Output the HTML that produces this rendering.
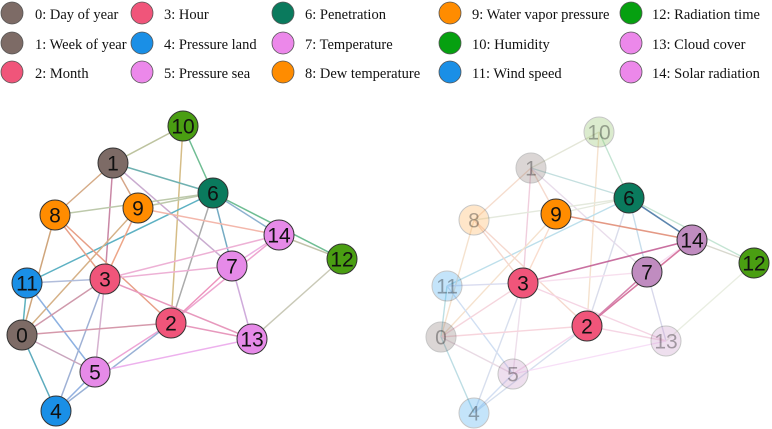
<!DOCTYPE html>
<html><head><meta charset="utf-8"><style>
body{margin:0;background:#fff;}
svg{display:block;}
.lg{font-family:"Liberation Serif",serif;font-size:14.5px;fill:#111;}
.nl{font-family:"Liberation Sans",sans-serif;font-size:21px;text-anchor:middle;dominant-baseline:central;fill:#111;}
</style></head><body>
<svg width="772" height="429" viewBox="0 0 772 429" xmlns="http://www.w3.org/2000/svg">
<g stroke="#555" stroke-width="0.8">
<circle cx="12" cy="13" r="11" fill="#7d6b66"/><circle cx="12" cy="43" r="11" fill="#7d6b66"/><circle cx="12" cy="72" r="11" fill="#f0557a"/>
<circle cx="142" cy="13" r="11" fill="#f0557a"/><circle cx="142" cy="43" r="11" fill="#1a8fe6"/><circle cx="142" cy="72" r="11" fill="#ec88ea"/>
<circle cx="283" cy="13" r="11" fill="#0a7a5d"/><circle cx="283" cy="43" r="11" fill="#ec88ea"/><circle cx="283" cy="72" r="11" fill="#ff8c00"/>
<circle cx="450" cy="13" r="11" fill="#ff8c00"/><circle cx="450" cy="43" r="11" fill="#06a010"/><circle cx="450" cy="72" r="11" fill="#1a8fe6"/>
<circle cx="631" cy="13" r="11" fill="#06a010"/><circle cx="631" cy="43" r="11" fill="#ec88ea"/><circle cx="631" cy="72" r="11" fill="#ec88ea"/>
</g>
<g class="lg">
<text x="35" y="19">0: Day of year</text><text x="35" y="49">1: Week of year</text><text x="35" y="78">2: Month</text>
<text x="164" y="19">3: Hour</text><text x="164" y="49">4: Pressure land</text><text x="164" y="78">5: Pressure sea</text>
<text x="305" y="19">6: Penetration</text><text x="305" y="49">7: Temperature</text><text x="305" y="78">8: Dew temperature</text>
<text x="472" y="19">9: Water vapor pressure</text><text x="472" y="49">10: Humidity</text><text x="472" y="78">11: Wind speed</text>
<text x="652" y="19">12: Radiation time</text><text x="652" y="49">13: Cloud cover</text><text x="652" y="78">14: Solar radiation</text>
</g>

<g stroke-width="1.5" opacity="0.75">
<line x1="183" y1="126" x2="113" y2="163" stroke="#a8b080"/>
<line x1="183" y1="126" x2="213" y2="193" stroke="#40a870"/>
<line x1="183" y1="126" x2="171" y2="323" stroke="#c8a860"/>
<line x1="113" y1="163" x2="213" y2="193" stroke="#409898"/>
<line x1="113" y1="163" x2="55" y2="215" stroke="#c89060"/>
<line x1="113" y1="163" x2="138" y2="208" stroke="#c88860"/>
<line x1="113" y1="163" x2="105" y2="279" stroke="#b86088"/>
<line x1="113" y1="163" x2="232" y2="266" stroke="#b890c0"/>
<line x1="213" y1="193" x2="55" y2="215" stroke="#a8b890"/>
<line x1="213" y1="193" x2="138" y2="208" stroke="#a8b890"/>
<line x1="213" y1="193" x2="27" y2="283" stroke="#2898b0"/>
<line x1="213" y1="193" x2="279" y2="235" stroke="#6898c0"/>
<line x1="213" y1="193" x2="342" y2="259" stroke="#40a870"/>
<line x1="213" y1="193" x2="232" y2="266" stroke="#4890b0"/>
<line x1="213" y1="193" x2="171" y2="323" stroke="#909090"/>
<line x1="138" y1="208" x2="279" y2="235" stroke="#f0a090"/>
<line x1="138" y1="208" x2="22" y2="335" stroke="#c89860"/>
<line x1="138" y1="208" x2="105" y2="279" stroke="#e88860"/>
<line x1="55" y1="215" x2="105" y2="279" stroke="#e08060"/>
<line x1="55" y1="215" x2="171" y2="323" stroke="#e08060"/>
<line x1="55" y1="215" x2="22" y2="335" stroke="#c08850"/>
<line x1="279" y1="235" x2="342" y2="259" stroke="#b0b090"/>
<line x1="279" y1="235" x2="105" y2="279" stroke="#e898c8"/>
<line x1="279" y1="235" x2="171" y2="323" stroke="#e888c0"/>
<line x1="279" y1="235" x2="232" y2="266" stroke="#e898d8"/>
<line x1="232" y1="266" x2="105" y2="279" stroke="#e898c8"/>
<line x1="232" y1="266" x2="171" y2="323" stroke="#e870a8"/>
<line x1="232" y1="266" x2="252" y2="339" stroke="#c090d0"/>
<line x1="342" y1="259" x2="252" y2="339" stroke="#b8b8a0"/>
<line x1="27" y1="283" x2="105" y2="279" stroke="#98a8d0"/>
<line x1="27" y1="283" x2="22" y2="335" stroke="#2898a8"/>
<line x1="27" y1="283" x2="95" y2="372" stroke="#6898d8"/>
<line x1="105" y1="279" x2="22" y2="335" stroke="#c07890"/>
<line x1="105" y1="279" x2="95" y2="372" stroke="#c898c0"/>
<line x1="105" y1="279" x2="56" y2="411" stroke="#8098c8"/>
<line x1="105" y1="279" x2="252" y2="339" stroke="#e078a8"/>
<line x1="171" y1="323" x2="22" y2="335" stroke="#c87890"/>
<line x1="171" y1="323" x2="252" y2="339" stroke="#e078a8"/>
<line x1="171" y1="323" x2="95" y2="372" stroke="#e888c8"/>
<line x1="171" y1="323" x2="56" y2="411" stroke="#7898c8"/>
<line x1="22" y1="335" x2="95" y2="372" stroke="#b888a8"/>
<line x1="22" y1="335" x2="56" y2="411" stroke="#2890a8"/>
<line x1="95" y1="372" x2="252" y2="339" stroke="#e898e8"/>
<line x1="95" y1="372" x2="56" y2="411" stroke="#7098d8"/>
</g>
<g stroke="#333" stroke-width="1">
<circle cx="183" cy="126" r="15" fill="#4a9e12"/>
<circle cx="113" cy="163" r="15" fill="#7d6b66"/>
<circle cx="213" cy="193" r="15" fill="#0a7a5d"/>
<circle cx="55" cy="215" r="15" fill="#ff8c00"/>
<circle cx="138" cy="208" r="15" fill="#ff8c00"/>
<circle cx="279" cy="235" r="15" fill="#e68ae8"/>
<circle cx="342" cy="259" r="15" fill="#4a9e12"/>
<circle cx="232" cy="266" r="15" fill="#e68ae8"/>
<circle cx="27" cy="283" r="15" fill="#1a8fe6"/>
<circle cx="105" cy="279" r="15" fill="#f0557a"/>
<circle cx="171" cy="323" r="15" fill="#f0557a"/>
<circle cx="22" cy="335" r="15" fill="#7d6b66"/>
<circle cx="252" cy="339" r="15" fill="#e68ae8"/>
<circle cx="95" cy="372" r="15" fill="#e68ae8"/>
<circle cx="56" cy="411" r="15" fill="#1a8fe6"/>
</g>
<g class="nl">
<text x="183" y="127">10</text><text x="113" y="164">1</text><text x="213" y="194">6</text>
<text x="55" y="216">8</text><text x="138" y="209">9</text><text x="279" y="236">14</text>
<text x="342" y="260">12</text><text x="232" y="267">7</text><text x="27" y="284">11</text>
<text x="105" y="280">3</text><text x="171" y="324">2</text><text x="22" y="336">0</text>
<text x="252" y="340">13</text><text x="95" y="373">5</text><text x="56" y="412">4</text>
</g>

<g stroke-width="1.4" opacity="0.3">
<line x1="599" y1="132" x2="531" y2="168" stroke="#a8b080"/>
<line x1="599" y1="132" x2="629" y2="198" stroke="#40a870"/>
<line x1="599" y1="132" x2="587" y2="326" stroke="#e0a060"/>
<line x1="531" y1="168" x2="629" y2="198" stroke="#409898"/>
<line x1="531" y1="168" x2="474" y2="220" stroke="#e09060"/>
<line x1="531" y1="168" x2="556" y2="214" stroke="#e08860"/>
<line x1="531" y1="168" x2="523" y2="283" stroke="#d06090"/>
<line x1="531" y1="168" x2="647" y2="272" stroke="#b890c0"/>
<line x1="629" y1="198" x2="474" y2="220" stroke="#a8b890"/>
<line x1="629" y1="198" x2="556" y2="214" stroke="#a8b890"/>
<line x1="629" y1="198" x2="447" y2="286" stroke="#2898c0"/>
<line x1="629" y1="198" x2="754" y2="263" stroke="#40a870"/>
<line x1="629" y1="198" x2="647" y2="272" stroke="#4890c0"/>
<line x1="629" y1="198" x2="587" y2="326" stroke="#8890c0"/>
<line x1="556" y1="214" x2="441" y2="337" stroke="#e0a060"/>
<line x1="556" y1="214" x2="523" y2="283" stroke="#f09060"/>
<line x1="474" y1="220" x2="523" y2="283" stroke="#e08060"/>
<line x1="474" y1="220" x2="587" y2="326" stroke="#e08060"/>
<line x1="474" y1="220" x2="441" y2="337" stroke="#e0a060"/>
<line x1="692" y1="240" x2="754" y2="263" stroke="#808060"/>
<line x1="647" y1="272" x2="523" y2="283" stroke="#e898c8"/>
<line x1="647" y1="272" x2="666" y2="341" stroke="#8080c0"/>
<line x1="692" y1="240" x2="647" y2="272" stroke="#e898d8"/>
<line x1="754" y1="263" x2="666" y2="341" stroke="#b8c8a0"/>
<line x1="447" y1="286" x2="523" y2="283" stroke="#8890d0"/>
<line x1="447" y1="286" x2="441" y2="337" stroke="#2898a8"/>
<line x1="447" y1="286" x2="513" y2="374" stroke="#6898d8"/>
<line x1="523" y1="283" x2="441" y2="337" stroke="#e07890"/>
<line x1="523" y1="283" x2="513" y2="374" stroke="#c898c0"/>
<line x1="523" y1="283" x2="474" y2="413" stroke="#8098c8"/>
<line x1="523" y1="283" x2="666" y2="341" stroke="#e078a8"/>
<line x1="587" y1="326" x2="441" y2="337" stroke="#e87890"/>
<line x1="587" y1="326" x2="666" y2="341" stroke="#e078a8"/>
<line x1="587" y1="326" x2="513" y2="374" stroke="#e888c8"/>
<line x1="587" y1="326" x2="474" y2="413" stroke="#7898c8"/>
<line x1="441" y1="337" x2="513" y2="374" stroke="#b888a8"/>
<line x1="441" y1="337" x2="474" y2="413" stroke="#2890a8"/>
<line x1="513" y1="374" x2="666" y2="341" stroke="#e898e8"/>
<line x1="513" y1="374" x2="474" y2="413" stroke="#7098d8"/>
</g>
<g stroke-width="1.6" opacity="0.85">
<line x1="556" y1="214" x2="692" y2="240" stroke="#e08870"/>
<line x1="523" y1="283" x2="692" y2="240" stroke="#c05890"/>
<line x1="587" y1="326" x2="692" y2="240" stroke="#d06090"/>
<line x1="587" y1="326" x2="647" y2="272" stroke="#d070a0"/>
<line x1="629" y1="198" x2="692" y2="240" stroke="#4070a0"/>
</g>
<g stroke="#444" stroke-width="1" opacity="0.3">
<circle cx="599" cy="132" r="15" fill="#8cc060"/>
<circle cx="531" cy="168" r="15" fill="#8a7a76"/>
<circle cx="474" cy="220" r="15" fill="#ffb050"/>
<circle cx="447" cy="286" r="15" fill="#40a8f0"/>
<circle cx="441" cy="337" r="15" fill="#8a7a76"/>
<circle cx="666" cy="341" r="15" fill="#c898c8"/>
<circle cx="513" cy="374" r="15" fill="#c898c8"/>
<circle cx="474" cy="413" r="15" fill="#40a8f0"/>
</g>
<g class="nl" opacity="0.35">
<text x="599" y="133">10</text><text x="531" y="169">1</text><text x="474" y="221">8</text>
<text x="447" y="287">11</text><text x="441" y="338">0</text><text x="666" y="342">13</text>
<text x="513" y="375">5</text><text x="474" y="414">4</text>
</g>
<g stroke="#333" stroke-width="1">
<circle cx="629" cy="198" r="15" fill="#0a7a5d"/>
<circle cx="556" cy="214" r="15" fill="#ff8c00"/>
<circle cx="692" cy="240" r="15" fill="#c08cc0"/>
<circle cx="754" cy="263" r="15" fill="#4a9e12"/>
<circle cx="647" cy="272" r="15" fill="#c08cc0"/>
<circle cx="523" cy="283" r="15" fill="#f0557a"/>
<circle cx="587" cy="326" r="15" fill="#f0557a"/>
</g>
<g class="nl">
<text x="629" y="199">6</text><text x="556" y="215">9</text><text x="692" y="241">14</text>
<text x="754" y="264">12</text><text x="647" y="273">7</text><text x="523" y="284">3</text>
<text x="587" y="327">2</text>
</g>
</svg>
</body></html>
